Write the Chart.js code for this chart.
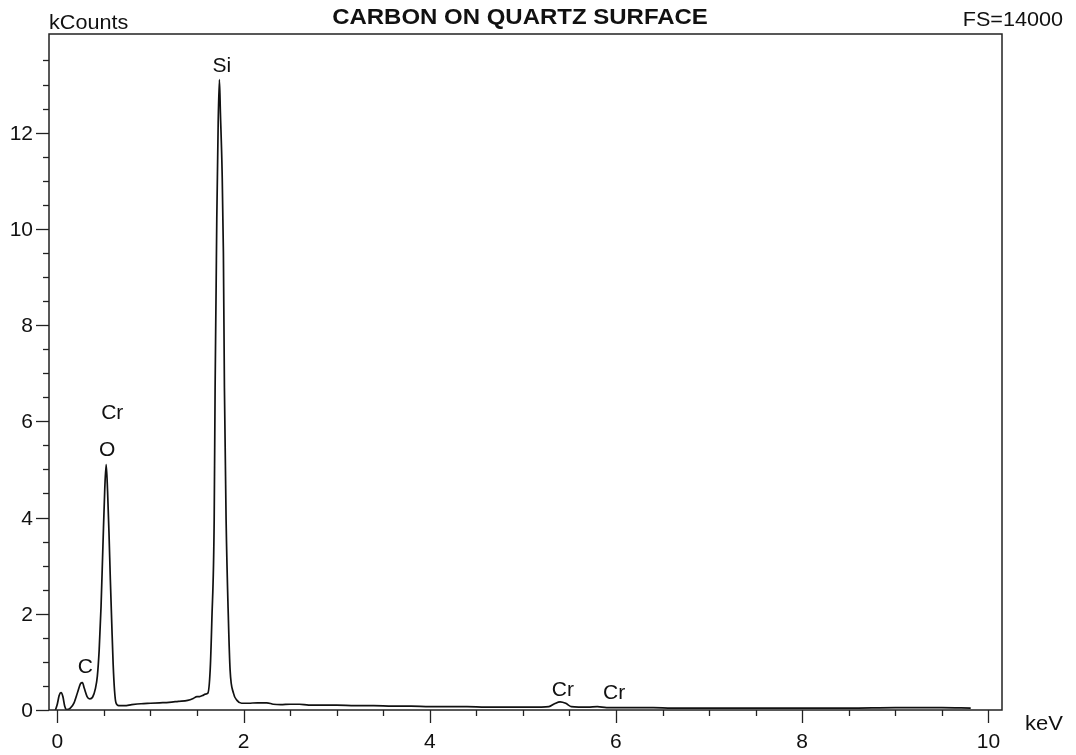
<!DOCTYPE html>
<html>
<head>
<meta charset="utf-8">
<title>Carbon on quartz surface</title>
<script src="https://cdn.jsdelivr.net/npm/chart.js@4.4.1/dist/chart.umd.min.js"></script>
<style>
  html, body { margin: 0; padding: 0; background: #fff; }
  canvas { display: block; }
</style>
</head>
<body>
<canvas id="spectrum" width="1076" height="755"></canvas>
<script>
// EDS spectrum, energy in keV and counts in thousands
var energy = [-0.02, 0.00, 0.02, 0.04, 0.06, 0.08, 0.10, 0.14, 0.18, 0.22, 0.25, 0.27, 0.29, 0.32, 0.35,
    0.38, 0.41, 0.43, 0.45, 0.47, 0.49, 0.51, 0.525, 0.54, 0.555, 0.57, 0.585, 0.60, 0.615, 0.63,
    0.66, 0.72, 0.80, 0.90, 1.00, 1.10, 1.20, 1.30, 1.40, 1.46, 1.50, 1.53, 1.56, 1.59, 1.617,
    1.642, 1.66, 1.685, 1.695, 1.706, 1.713, 1.728, 1.741, 1.752, 1.77, 1.784, 1.795, 1.813, 1.838,
    1.856, 1.892, 1.93, 1.98, 2.05, 2.15, 2.25, 2.32, 2.40, 2.50, 2.60, 2.70, 2.85, 3.00, 3.20,
    3.40, 3.60, 3.80, 4.00, 4.20, 4.40, 4.60, 4.80, 5.00, 5.20, 5.28, 5.34, 5.40, 5.46, 5.52,
    5.60, 5.70, 5.80, 5.90, 6.00, 6.20, 6.40, 6.60, 6.80, 7.00, 7.50, 8.00, 8.50, 9.00, 9.50, 9.81];
var kcounts = [0.00, 0.12, 0.30, 0.36, 0.28, 0.08, 0.01, 0.04, 0.15, 0.38, 0.55, 0.57, 0.45, 0.28, 0.23,
    0.27, 0.45, 0.70, 1.25, 2.15, 3.40, 4.60, 5.10, 4.55, 3.70, 2.70, 1.80, 0.95, 0.40, 0.15,
    0.09, 0.09, 0.11, 0.13, 0.14, 0.15, 0.16, 0.18, 0.20, 0.24, 0.28, 0.28, 0.30, 0.33, 0.35,
    0.83, 1.87, 3.95, 6.70, 8.80, 10.2, 12.2, 13.1, 12.4, 11.2, 9.50, 6.70, 3.95, 1.87,
    0.83, 0.35, 0.20, 0.14, 0.14, 0.15, 0.15, 0.12, 0.11, 0.12, 0.12, 0.10, 0.10, 0.10, 0.09,
    0.09, 0.08, 0.08, 0.07, 0.07, 0.07, 0.06, 0.06, 0.06, 0.06, 0.07, 0.13, 0.17, 0.14, 0.07,
    0.06, 0.06, 0.07, 0.05, 0.05, 0.05, 0.05, 0.04, 0.04, 0.04, 0.04, 0.04, 0.04, 0.05, 0.05, 0.04];

// element markers placed above their peaks
var peakNames = ['C', 'O', 'Cr', 'Si', 'Cr', 'Cr'];
var peakEnergy = [0.30, 0.535, 0.59, 1.766, 5.43, 5.98];
var peakHeight = [0.91, 5.43, 6.20, 13.41, 0.45, 0.38];

var xTickLabels = ['0', '2', '4', '6', '8', '10'];
var yTickLabels = ['0', '2', '4', '6', '8', '10', '12'];

var FONT = '"Liberation Sans", Arial, Helvetica, sans-serif';

// text helper: x is the anchor, y the vertical centre of capitals, sx a horizontal stretch
function drawText(ctx, text, x, y, size, bold, align, sx) {
    ctx.save();
    ctx.font = (bold ? 'bold ' : '') + size + 'px ' + FONT;
    ctx.textAlign = 'left';
    ctx.textBaseline = 'alphabetic';
    var w = ctx.measureText(text).width * sx;
    var left = align === 'center' ? x - w / 2 : (align === 'right' ? x - w : x);
    ctx.translate(left, y + size * 0.358);
    ctx.scale(sx, 1);
    ctx.fillStyle = '#111';
    ctx.fillText(text, 0, 0);
    ctx.restore();
}

var frame = {
    id: 'frame',
    afterDraw: function (chart) {
        var ctx = chart.ctx;
        var a = chart.chartArea;
        var xs = chart.scales.x;
        var ys = chart.scales.y;

        ctx.save();
        ctx.strokeStyle = '#222';
        ctx.lineWidth = 1.5;
        ctx.strokeRect(a.left, a.top, a.right - a.left, a.bottom - a.top);

        // y ticks every 0.5 up to 13.5, long ones at the labels
        ctx.lineWidth = 1.3;
        for (var v = 0; v <= 13.5; v += 0.5) {
            var py = Math.round(ys.getPixelForValue(v)) + 0.5;
            var major = v % 2 === 0;
            ctx.beginPath();
            ctx.moveTo(a.left - (major ? 13 : 6), py);
            ctx.lineTo(a.left, py);
            ctx.stroke();
        }
        // x ticks every 0.5 keV
        for (var e = 0; e <= 10; e += 0.5) {
            var px = Math.round(xs.getPixelForValue(e)) + 0.5;
            var majorX = e % 2 === 0;
            ctx.beginPath();
            ctx.moveTo(px, a.bottom);
            ctx.lineTo(px, a.bottom + (majorX ? 13 : 6));
            ctx.stroke();
        }
        ctx.restore();

        yTickLabels.forEach(function (t) {
            drawText(ctx, t, a.left - 16, ys.getPixelForValue(parseFloat(t)), 20, false, 'right', 1.05);
        });
        xTickLabels.forEach(function (t) {
            drawText(ctx, t, xs.getPixelForValue(parseFloat(t)), a.bottom + 31, 20, false, 'center', 1.05);
        });

        peakNames.forEach(function (name, i) {
            drawText(ctx, name, xs.getPixelForValue(peakEnergy[i]), ys.getPixelForValue(peakHeight[i]),
                20, false, 'center', 1.05);
        });

        drawText(ctx, 'CARBON ON QUARTZ SURFACE', 520, 16, 22, true, 'center', 1.09);
        drawText(ctx, 'kCounts', a.left, 21.5, 20, false, 'left', 1.08);
        drawText(ctx, 'FS=14000', 1063, 19, 20, false, 'right', 1.08);
        drawText(ctx, 'keV', 1044, 723, 20, false, 'center', 1.1);
    }
};

var points = energy.map(function (e, i) {
    return { x: e, y: kcounts[i] };
});

new Chart(document.getElementById('spectrum'), {
    type: 'line',
    data: {
        datasets: [{
            label: 'Counts',
            data: points,
            borderColor: '#111',
            borderWidth: 1.7,
            pointRadius: 0,
            fill: false,
            cubicInterpolationMode: 'monotone'
        }]
    },
    options: {
        responsive: false,
        animation: false,
        devicePixelRatio: 1,
        layout: { padding: { left: 49, top: 34, right: 74, bottom: 45 } },
        plugins: {
            legend: { display: false },
            title: { display: false },
            tooltip: { enabled: false }
        },
        scales: {
            x: { type: 'linear', min: -0.089, max: 10.146, display: false },
            y: { type: 'linear', min: 0, max: 14.05, display: false }
        }
    },
    plugins: [frame]
});
</script>
</body>
</html>
